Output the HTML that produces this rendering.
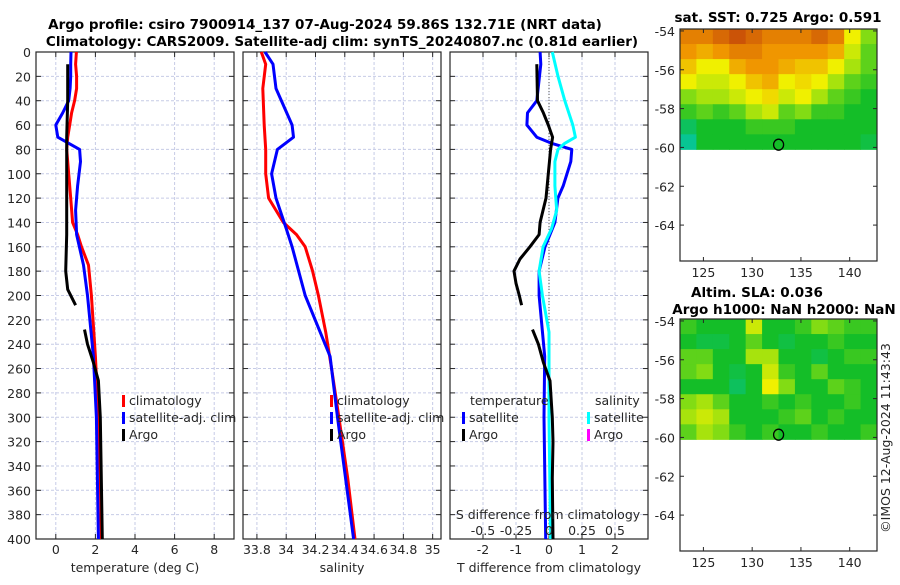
<!DOCTYPE html>
<html><head><meta charset="utf-8"><style>
body{margin:0;background:#fff;width:900px;height:580px;overflow:hidden}
text{font-family:"DejaVu Sans","Liberation Sans",sans-serif;fill:#262626}
.t{font-size:12.5px}
.b{font-weight:bold;fill:#000;font-size:13.5px}
</style></head><body>
<svg id="fig" width="900" height="580" viewBox="0 0 900 580" xmlns="http://www.w3.org/2000/svg">
<text class="b" x="325" y="29" text-anchor="middle">Argo profile: csiro 7900914_137 07-Aug-2024 59.86S 132.71E (NRT data)</text>
<text class="b" x="342" y="46" text-anchor="middle">Climatology: CARS2009. Satellite-adj clim: synTS_20240807.nc (0.81d earlier)</text>
<text class="b" x="778" y="22" text-anchor="middle">sat. SST: 0.725 Argo: 0.591</text>
<text class="b" x="757" y="297" text-anchor="middle">Altim. SLA: 0.036</text>
<text class="b" x="784" y="314" text-anchor="middle">Argo h1000: NaN h2000: NaN</text>
<text class="t" transform="translate(890,438) rotate(-90)" text-anchor="middle">©IMOS 12-Aug-2024 11:43:43</text>
</svg>
<script>
// ---- data ----
const depthTicks=[0,20,40,60,80,100,120,140,160,180,200,220,240,260,280,300,320,340,360,380,400];
const tempTicks=[0,2,4,6,8];
const salTicks=[33.8,34,34.2,34.4,34.6,34.8,35];
const salTickLabels=["33.8","34","34.2","34.4","34.6","34.8","35"];
const dTTicks=[-2,-1,0,1,2];
const dSTicks=[-0.5,-0.25,0,0.25,0.5];
const dSTickLabels=["-0.5","-0.25","0","0.25","0.5"];
const climTDepth=[0,10,20,30,40,50,60,70,80,100,120,140,150,160,175,200,225,250,300,350,400];
const climTVal=[1.04,1.0,1.05,1.05,0.95,0.8,0.7,0.6,0.55,0.65,0.75,0.85,1.1,1.3,1.65,1.8,1.9,2.0,2.15,2.25,2.3];
const satTDepth=[0,10,20,30,40,50,60,70,80,90,110,130,150,175,200,250,300,400];
const satTVal=[0.77,0.75,0.75,0.72,0.65,0.35,0.0,0.1,1.2,1.25,1.1,1.0,1.05,1.4,1.6,1.9,2.05,2.15];
const argoTDepth=[10,40,70,100,150,180,195,208,null,228,240,255,270,300,350,400];
const argoTVal=[0.6,0.6,0.55,0.55,0.55,0.5,0.6,1.0,null,1.45,1.6,1.9,2.15,2.25,2.3,2.35];
const climSDepth=[0,10,30,60,80,100,120,140,150,160,180,200,230,260,300,350,400];
const climSVal=[33.83,33.86,33.84,33.85,33.86,33.86,33.88,33.98,34.07,34.13,34.18,34.22,34.27,34.31,34.36,34.42,34.47];
const satSDepth=[0,10,30,60,70,80,100,120,145,160,200,250,300,400];
const satSVal=[33.855,33.91,33.93,34.04,34.05,33.94,33.9,33.93,34.0,34.04,34.13,34.3,34.35,34.46];
const dTsatDepth=[0,10,40,50,60,70,75,80,90,110,120,140,150,160,180,200,250,300,400];
const dTsatVal=[-0.27,-0.25,-0.37,-0.65,-0.67,-0.37,0.08,0.69,0.66,0.43,0.27,0.18,0.03,-0.12,-0.3,-0.3,-0.13,-0.15,-0.1];
const dSsatDepth=[0,20,40,60,70,75,80,90,110,130,145,160,180,200,230,250,300,400];
const dSsatVal=[0.025,0.068,0.12,0.18,0.2,0.12,0.068,0.045,0.045,0.058,0.02,-0.045,-0.075,-0.05,0,0,0,0.012];
const dTargoDepth=[10,40,50,60,70,80,100,120,140,150,160,170,180,190,200,208,null,228,240,255,270,300,320,350,400];
const dTargoVal=[-0.37,-0.35,-0.17,-0.02,0.11,0.05,-0.02,-0.09,-0.27,-0.3,-0.58,-0.88,-1.06,-1.0,-0.9,-0.83,null,-0.5,-0.32,-0.17,0.03,0.1,0.12,0.1,0.12];
const latTicks=[-54,-56,-58,-60,-62,-64];
const lonTicks=[125,130,135,140];
const argoLon=132.71, argoLat=-59.86;
const sstGrid=[
[0.85,0.85,0.9,0.95,0.9,0.85,0.85,0.85,0.9,0.85,0.6,0.45],
[0.8,0.75,0.8,0.85,0.85,0.8,0.8,0.8,0.8,0.75,0.55,0.4],
[0.7,0.6,0.6,0.75,0.8,0.8,0.75,0.7,0.7,0.6,0.5,0.4],
[0.6,0.55,0.55,0.6,0.7,0.75,0.6,0.65,0.6,0.5,0.4,0.35],
[0.45,0.5,0.5,0.55,0.6,0.65,0.55,0.6,0.5,0.4,0.35,0.3],
[0.35,0.4,0.35,0.4,0.5,0.55,0.4,0.45,0.35,0.35,0.3,0.3],
[0.2,0.3,0.3,0.3,0.35,0.35,0.35,0.3,0.3,0.3,0.3,0.3],
[0.1,0.3,0.3,0.3,0.3,0.3,0.3,0.3,0.3,0.3,0.3,0.25]];
const slaGrid=[
[0.35,0.3,0.3,0.3,0.55,0.3,0.3,0.35,0.45,0.4,0.35,0.35],
[0.3,0.25,0.25,0.3,0.4,0.3,0.25,0.3,0.3,0.35,0.3,0.3],
[0.4,0.4,0.3,0.3,0.5,0.5,0.3,0.3,0.25,0.3,0.35,0.35],
[0.4,0.45,0.3,0.25,0.3,0.55,0.35,0.3,0.4,0.3,0.3,0.3],
[0.3,0.3,0.3,0.2,0.3,0.6,0.45,0.3,0.3,0.4,0.35,0.3],
[0.45,0.5,0.4,0.3,0.3,0.35,0.3,0.35,0.3,0.3,0.35,0.3],
[0.5,0.55,0.5,0.3,0.3,0.3,0.35,0.4,0.3,0.35,0.3,0.3],
[0.4,0.5,0.45,0.35,0.3,0.35,0.3,0.3,0.35,0.3,0.3,0.35]];

// ---- helpers ----
const svg=document.getElementById('fig');
const NS='http://www.w3.org/2000/svg';
function mk(tag,attrs,parent){const e=document.createElementNS(NS,tag);for(const k in attrs)e.setAttribute(k,attrs[k]);(parent||svg).appendChild(e);return e;}
const top0=52,bot0=539;
const yD=d=>top0+(bot0-top0)*d/400;

function panel(name,x0,x1,xmin,xmax){
  const g=mk('g',{});
  
  
  const sx=v=>x0+(x1-x0)*(v-xmin)/(xmax-xmin);
  return {g,sx,x0,x1};
}
function gridAndFrame(p,xt,showY){
  depthTicks.forEach(d=>{
    const l=mk('line',{x1:p.x0,x2:p.x1,y1:yD(d),y2:yD(d),stroke:'#c6cbe6','stroke-width':1,'stroke-dasharray':'3,2'},p.g);
    
    mk('line',{x1:p.x0,x2:p.x0+5,y1:yD(d),y2:yD(d),stroke:'#262626'},p.g);
    mk('line',{x1:p.x1-5,x2:p.x1,y1:yD(d),y2:yD(d),stroke:'#262626'},p.g);
    if(showY){const t=mk('text',{x:p.x0-5,y:yD(d)+5,'text-anchor':'end',class:'t'},p.g);t.textContent=d;
      }
  });
  xt.forEach(v=>{
    const x=p.sx(v);
    const l=mk('line',{x1:x,x2:x,y1:top0,y2:bot0,stroke:'#c6cbe6','stroke-width':1,'stroke-dasharray':'3,2'},p.g);
    
    mk('line',{x1:x,x2:x,y1:bot0,y2:bot0-5,stroke:'#262626'},p.g);
    mk('line',{x1:x,x2:x,y1:top0,y2:top0+5,stroke:'#262626'},p.g);
  });
  const r=mk('rect',{x:p.x0,y:top0,width:p.x1-p.x0,height:bot0-top0,fill:'none',stroke:'#262626','stroke-width':1.2},p.g);
  
}
function xLabels(p,vals,labels,y){
  vals.forEach((v,i)=>{const t=mk('text',{x:p.sx(v),y:y,'text-anchor':'middle',class:'t'},p.g);t.textContent=labels?labels[i]:v;
    });
}
function line(p,ds,vs,sx,color,name,w){
  let d='',pen=false;
  for(let i=0;i<ds.length;i++){
    if(ds[i]===null){pen=false;continue;}
    d+=(pen?'L':'M')+sx(vs[i]).toFixed(1)+','+yD(ds[i]).toFixed(1);pen=true;
  }
  const e=mk('path',{d:d,fill:'none',stroke:color,'stroke-width':w||3,'stroke-linejoin':'round'},p.g);
  
}
function legendEntry(p,x,y,color,label){
  const m=mk('rect',{x:x,y:y-10,width:3,height:12,fill:color},p.g);
  
  const t=mk('text',{x:x+7,y:y,class:'t'},p.g);t.textContent=label;
  
}
function xTitle(p,txt,name){const t=mk('text',{x:(p.x0+p.x1)/2,y:572,'text-anchor':'middle',class:'t'},p.g);t.textContent=txt;
  }

// Panel 1 temperature
const p1=panel('temperature-panel',36,234,-1,9);
gridAndFrame(p1,tempTicks,true);
xLabels(p1,tempTicks,null,554);
xTitle(p1,'temperature (deg C)','temperature-axis-title');
line(p1,climTDepth,climTVal,p1.sx,'#ff0000','climatology-temperature-line');
line(p1,satTDepth,satTVal,p1.sx,'#0000ff','satellite-temperature-line');
line(p1,argoTDepth,argoTVal,p1.sx,'#000000','argo-temperature-line');
legendEntry(p1,122,405,'#ff0000','climatology');
legendEntry(p1,122,422,'#0000ff','satellite-adj. clim');
legendEntry(p1,122,439,'#000000','Argo');

// Panel 2 salinity
const p2=panel('salinity-panel',243,441,33.705,35.057);
gridAndFrame(p2,salTicks,false);
xLabels(p2,salTicks,salTickLabels,554);
xTitle(p2,'salinity','salinity-axis-title');
line(p2,climSDepth,climSVal,p2.sx,'#ff0000','climatology-salinity-line');
line(p2,satSDepth,satSVal,p2.sx,'#0000ff','satellite-salinity-line');
legendEntry(p2,330,405,'#ff0000','climatology');
legendEntry(p2,330,422,'#0000ff','satellite-adj. clim');
legendEntry(p2,330,439,'#000000','Argo');

// Panel 3 differences
const p3=panel('difference-panel',450,648,-3,3);
gridAndFrame(p3,dTTicks,false);
const sxS=v=>p3.sx(v*4);
const z=mk('line',{x1:p3.sx(0),x2:p3.sx(0),y1:top0,y2:bot0,stroke:'#555','stroke-dasharray':'1,2'},p3.g);

xLabels(p3,dTTicks,null,554);
xTitle(p3,'T difference from climatology','t-difference-axis-title');
line(p3,dTsatDepth,dTsatVal,p3.sx,'#0000ff','satellite-t-diff-line');
line(p3,dSsatDepth,dSsatVal,sxS,'#00ffff','satellite-s-diff-line');
line(p3,dTargoDepth,dTargoVal,p3.sx,'#000000','argo-t-diff-line');
{const t=mk('text',{x:470,y:405,class:'t'},p3.g);t.textContent='temperature';}
{const t=mk('text',{x:595,y:405,class:'t'},p3.g);t.textContent='salinity';}
legendEntry(p3,462,422,'#0000ff','satellite');
legendEntry(p3,462,439,'#000000','Argo');
legendEntry(p3,587,422,'#00ffff','satellite');
legendEntry(p3,587,439,'#ff00ff','Argo');
{const t=mk('text',{x:548,y:519,'text-anchor':'middle',class:'t'},p3.g);t.textContent='S difference from climatology';}
dSTicks.forEach((v,i)=>{const t=mk('text',{x:sxS(v),y:535,'text-anchor':'middle',class:'t'},p3.g);t.textContent=dSTickLabels[i];
  });

// Maps
function col(v){
  const stops=[[0,[0,200,200]],[0.3,[20,190,40]],[0.45,[130,220,20]],[0.6,[240,240,0]],[0.8,[240,150,0]],[1,[190,60,10]]];
  for(let i=1;i<stops.length;i++){if(v<=stops[i][0]){const a=stops[i-1],b=stops[i],t=(v-a[0])/(b[0]-a[0]);
    return 'rgb('+a[1].map((c,k)=>Math.round(c+(b[1][k]-c)*t)).join(',')+')';}}
  return 'rgb(190,60,10)';
}
function map(name,yOff,grid){
  const g=mk('g',{});
  const x0=680,x1=877,y0=29+yOff,y1=261+yOff,lon0=122.6,lon1=142.8,lat0=-53.9,lat1=-65.85;
  const sx=v=>x0+(x1-x0)*(v-lon0)/(lon1-lon0), sy=v=>y0+(y1-y0)*(v-lat0)/(lat1-lat0);
  const nr=grid.length,nc=grid[0].length,dlon=(lon1-lon0)/nc,dlat=(-60.1-lat0)/nr;
  grid.forEach((row,r)=>row.forEach((v,c)=>{
    const xa=sx(lon0+c*dlon),xb=sx(lon0+(c+1)*dlon),ya=sy(lat0+r*dlat),yb=sy(lat0+(r+1)*dlat);
    const e=mk('rect',{x:xa,y:ya,width:xb-xa+0.5,height:yb-ya+0.5,fill:col(v)},g);
    
  }));
  mk('rect',{x:x0,y:y0,width:x1-x0,height:y1-y0,fill:'none',stroke:'#262626','stroke-width':1.2},g);
  latTicks.forEach(v=>{mk('line',{x1:x0,x2:x0+4,y1:sy(v),y2:sy(v),stroke:'#262626'},g);mk('line',{x1:x1-4,x2:x1,y1:sy(v),y2:sy(v),stroke:'#262626'},g);
    const t=mk('text',{x:x0-5,y:sy(v)+5,'text-anchor':'end',class:'t'},g);t.textContent=v;});
  lonTicks.forEach(v=>{mk('line',{x1:sx(v),x2:sx(v),y1:y1,y2:y1-4,stroke:'#262626'},g);mk('line',{x1:sx(v),x2:sx(v),y1:y0,y2:y0+4,stroke:'#262626'},g);
    const t=mk('text',{x:sx(v),y:y1+16,'text-anchor':'middle',class:'t'},g);t.textContent=v;});
  const c=mk('ellipse',{cx:sx(argoLon),cy:sy(argoLat),rx:5,ry:5.5,fill:'none',stroke:'#000','stroke-width':1.3},g);
  
}
map('sst-map',0,sstGrid);
map('sla-map',290,slaGrid);
</script>
</body></html>
